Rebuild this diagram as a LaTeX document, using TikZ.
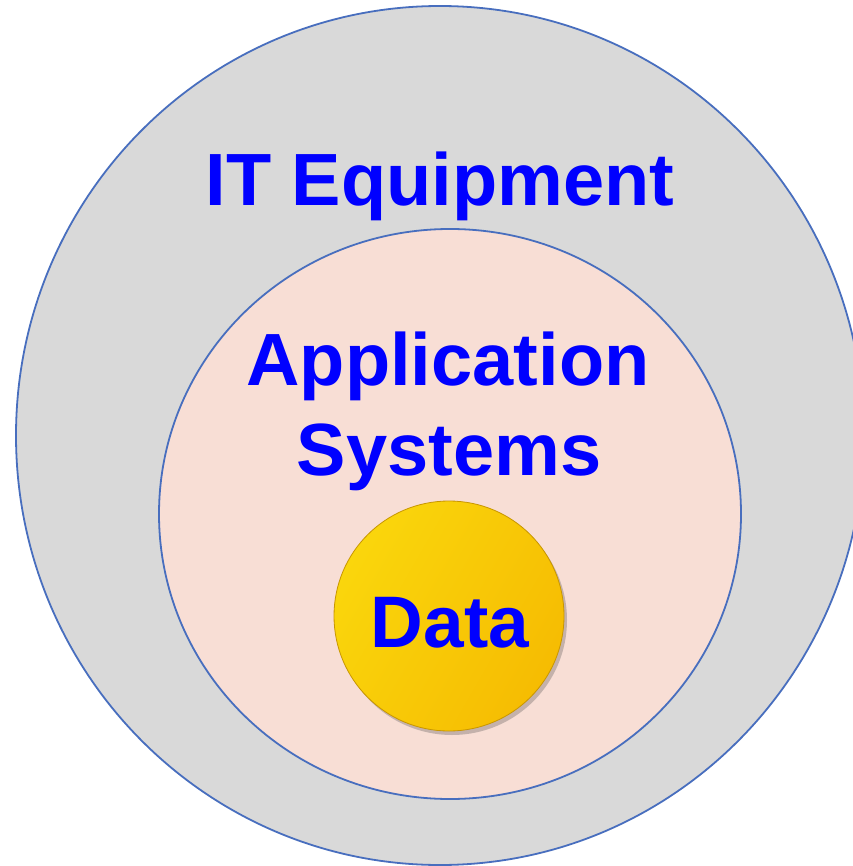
\documentclass[tikz,border=0pt]{standalone}
\usepackage{fontspec}
\setmainfont{Liberation Sans}
\usetikzlibrary{shapes.geometric,shadows}
\definecolor{ringgray}{RGB}{217,217,217}
\definecolor{ringblue}{RGB}{72,110,190}
\definecolor{pinkfill}{RGB}{248,222,213}
\definecolor{labelblue}{RGB}{0,0,255}
\definecolor{goldlight}{RGB}{250,214,12}
\definecolor{golddark}{RGB}{246,188,2}
\definecolor{goldedge}{RGB}{200,150,0}
\tikzset{
  ring/.style={ellipse, draw=ringblue, line width=1.8pt, inner sep=0pt},
  lbl/.style={text=labelblue, font=\bfseries, anchor=base, inner sep=0pt},
  coin/.style={circle, inner sep=0pt, minimum size=230pt, draw=goldedge, line width=0.8pt,
    left color=goldlight, right color=golddark, shading angle=60,
    drop shadow={shadow xshift=3pt, shadow yshift=-4pt, opacity=0.3, fill=black!70}}
}
\begin{document}
\begin{tikzpicture}[x=1pt,y=-1pt]
\useasboundingbox (0,0) rectangle (852,866);
\node[ring, fill=ringgray, minimum width=848pt, minimum height=859pt] (outer) at (440,435.5) {};
\node[ring, fill=pinkfill, minimum width=582pt, minimum height=570pt] (inner) at (450,514) {};
\node[coin] (data) at (449,616) {};
\node[lbl, font=\bfseries\fontsize{74}{90}\selectfont] (it) at (440,206) {IT Equipment};
\node[lbl, font=\bfseries\fontsize{74}{90}\selectfont] (app) at (448,385) {Application};
\node[lbl, font=\bfseries\fontsize{74}{90}\selectfont] (sys) at (449,475) {Systems};
\node[lbl, font=\bfseries\fontsize{73}{90}\selectfont] (datalbl) at (450,647) {Data};
\end{tikzpicture}
\end{document}
